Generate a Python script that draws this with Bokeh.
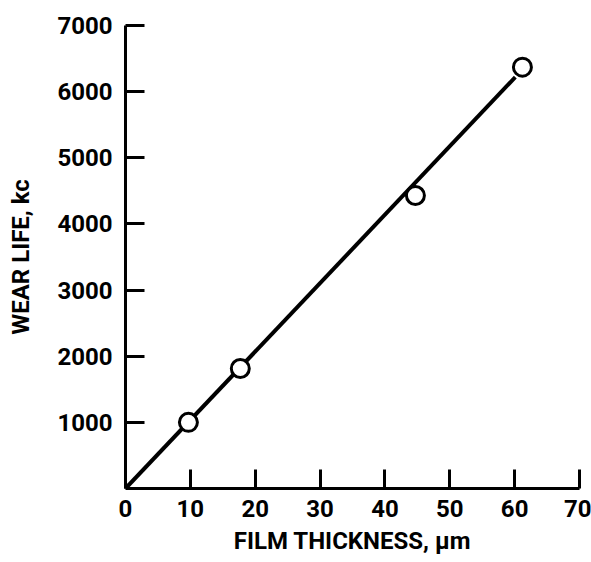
from bokeh.plotting import figure
from bokeh.models import Range1d, FixedTicker
from bokeh.embed import file_html
from bokeh.resources import INLINE

# Data
film_thickness = [9.7, 17.7, 44.7, 61.2]      # µm
wear_life = [1000, 1815, 4430, 6370]          # kc
fit_x = [0, 60.1]
fit_y = [0, 6220]

x_ticks = [0, 10, 20, 30, 40, 50, 60, 70]
y_ticks = [1000, 2000, 3000, 4000, 5000, 6000, 7000]

FONT = "Roboto"

p = figure(width=591, height=562, output_backend="svg", toolbar_location=None,
           x_range=Range1d(0, 70), y_range=Range1d(0, 7000),
           min_border_left=125, min_border_right=12, min_border_top=25, min_border_bottom=74)
p.outline_line_color = None
p.grid.visible = False
p.background_fill_color = "white"
p.border_fill_color = "white"

p.line(fit_x, fit_y, line_color="black", line_width=4)
p.scatter(film_thickness, wear_life, size=18, fill_color="white", line_color="black", line_width=3)

for ax in (p.xaxis[0], p.yaxis[0]):
    ax.axis_line_width = 3
    ax.axis_line_color = "black"
    ax.major_tick_line_width = 3
    ax.major_tick_line_color = "black"
    ax.major_tick_in = 19
    ax.major_tick_out = 0
    ax.minor_tick_line_color = None
    ax.major_label_text_font = FONT
    ax.major_label_text_font_style = "bold"
    ax.major_label_text_font_size = "24px"
    ax.major_label_text_color = "black"
    ax.axis_label_text_font = FONT
    ax.axis_label_text_font_style = "bold"
    ax.axis_label_text_font_size = "24px"
    ax.axis_label_text_color = "black"

p.xaxis[0].ticker = FixedTicker(ticks=x_ticks)
p.yaxis[0].ticker = FixedTicker(ticks=y_ticks)
p.xaxis[0].major_label_standoff = 11
p.yaxis[0].major_label_standoff = 13
p.xaxis[0].axis_label = "FILM THICKNESS, \u00b5m"
p.yaxis[0].axis_label = "WEAR LIFE, kc"
p.xaxis[0].axis_label_standoff = 7
p.yaxis[0].axis_label_standoff = 19

open("out.html", "w").write(file_html(p, INLINE))
